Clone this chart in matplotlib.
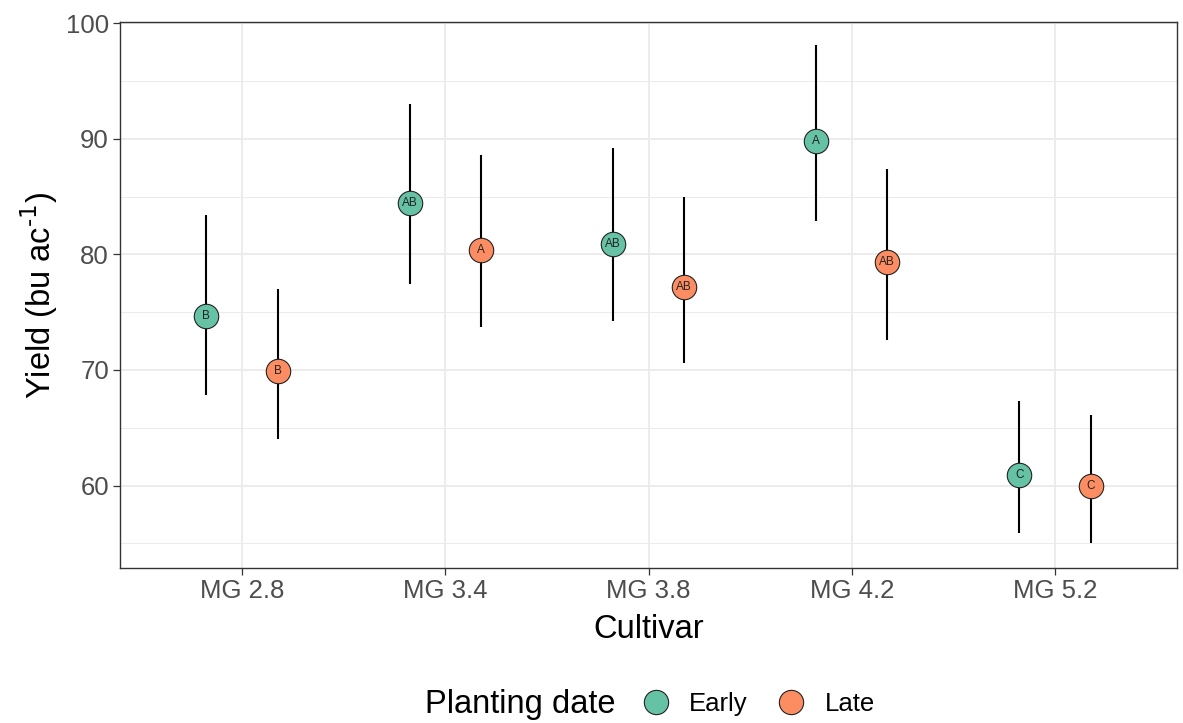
import matplotlib
matplotlib.use("Agg")
import matplotlib.pyplot as plt
import numpy as np
from matplotlib.lines import Line2D

plt.rcParams['font.family'] = ['Liberation Sans', 'DejaVu Sans']
plt.rcParams['mathtext.default'] = 'regular'

# data
cultivars = ["MG 2.8", "MG 3.4", "MG 3.8", "MG 4.2", "MG 5.2"]
early_mean = [74.7, 84.4, 80.9, 89.8, 60.9]
early_low = [67.8, 77.4, 74.2, 82.9, 55.9]
early_high = [83.4, 93.0, 89.2, 98.1, 67.3]
early_group = ["B", "AB", "AB", "A", "C"]
late_mean = [69.9, 80.4, 77.2, 79.3, 60.0]
late_low = [64.0, 73.7, 70.6, 72.6, 55.0]
late_high = [77.0, 88.6, 85.0, 87.4, 66.1]
late_group = ["B", "A", "AB", "AB", "C"]

EARLY_COLOR = "#66C2A5"
LATE_COLOR = "#FC8D62"
DODGE = 0.175

fig = plt.figure(figsize=(11.83, 7.23), dpi=100)
ax = fig.add_axes([120 / 1183, 1 - 568 / 723, 1057 / 1183, 546 / 723])

x = np.arange(1, len(cultivars) + 1)

series = [
    (x - DODGE, early_mean, early_low, early_high, early_group, EARLY_COLOR),
    (x + DODGE, late_mean, late_low, late_high, late_group, LATE_COLOR),
]
for xs, mean, low, high, groups, color in series:
    ax.vlines(xs, low, high, color="black", linewidth=1.5, zorder=3)
    ax.scatter(xs, mean, s=310, color=color, edgecolor="#222222",
               linewidth=0.8, zorder=4)
    for xi, yi, g in zip(xs, mean, groups):
        ax.text(xi, yi, g, ha="center", va="center", fontsize=8.5,
                color="#222222", zorder=5)

ax.set_xlim(0.4, 5.6)
ax.set_ylim(52.87, 100.1)
ax.set_xticks(x)
ax.set_xticklabels(cultivars)
ax.set_yticks([60, 70, 80, 90, 100])
ax.set_yticks([55, 65, 75, 85, 95], minor=True)

ax.grid(which="major", color="#EBEBEB", linewidth=1.3, zorder=0)
ax.grid(which="minor", axis="y", color="#EBEBEB", linewidth=0.7, zorder=0)
ax.set_axisbelow(True)
for spine in ax.spines.values():
    spine.set_color("#333333")
    spine.set_linewidth(1.0)

ax.tick_params(which="major", length=5, width=0.9, color="#333333",
               labelsize=18.5, labelcolor="#4D4D4D", pad=3)
ax.tick_params(which="minor", length=0)

ax.set_xlabel("Cultivar", fontsize=23.5, labelpad=8)
ax.set_ylabel("Yield (bu ac$^{\\text{-1}}$)", fontsize=23.5, labelpad=4)

# legend at the bottom, title to the left of the keys
fig.text(425 / 1183, 1 - 704 / 723, "Planting date", fontsize=23.5,
         ha="left", va="center")
handles = [
    Line2D([], [], marker="o", linestyle="none", markersize=17.5,
           markerfacecolor=EARLY_COLOR, markeredgecolor="#222222",
           markeredgewidth=0.8, label="Early"),
    Line2D([], [], marker="o", linestyle="none", markersize=17.5,
           markerfacecolor=LATE_COLOR, markeredgecolor="#222222",
           markeredgewidth=0.8, label="Late"),
]
fig.legend(handles=handles, loc="center left",
           bbox_to_anchor=(630 / 1183, 1 - 704 / 723), ncol=2,
           frameon=False, fontsize=18.5, handletextpad=0.3,
           columnspacing=0.7, borderaxespad=0, borderpad=0)

fig.savefig("out.png", dpi=100)
